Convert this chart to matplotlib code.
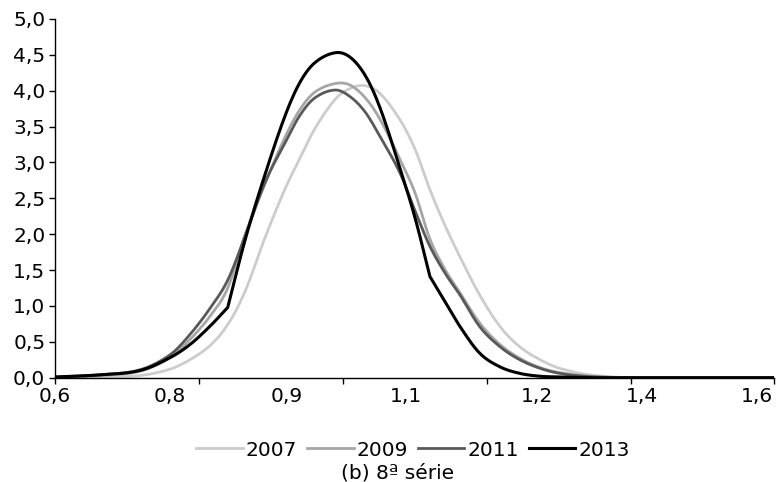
import matplotlib

matplotlib.use("Agg")
import matplotlib.pyplot as plt
import numpy as np


# category values along the x axis
X_VALUES = [0.600, 0.664, 0.721, 0.764, 0.792, 0.821, 0.846, 0.871, 0.899, 0.928,
            0.949, 0.970, 0.999, 1.020, 1.042, 1.063, 1.091, 1.113, 1.134, 1.156,
            1.177, 1.205, 1.234, 1.262, 1.291, 1.319, 1.362, 1.419, 1.519, 1.624]

Y_2007 = [0.00, 0.01, 0.03, 0.12, 0.25, 0.45, 0.74, 1.21, 1.95, 2.64,
          3.06, 3.47, 3.88, 4.03, 4.07, 3.96, 3.60, 3.18, 2.62, 2.11,
          1.68, 1.15, 0.71, 0.43, 0.25, 0.13, 0.04, 0.00, 0.00, 0.00]
Y_2009 = [0.00, 0.03, 0.09, 0.28, 0.53, 0.86, 1.25, 2.00, 2.70, 3.36,
          3.74, 3.98, 4.10, 4.08, 3.90, 3.60, 3.05, 2.57, 1.93, 1.50,
          1.18, 0.76, 0.46, 0.27, 0.14, 0.07, 0.02, 0.00, 0.00, 0.00]
Y_2011 = [0.01, 0.04, 0.11, 0.32, 0.60, 0.97, 1.36, 1.98, 2.72, 3.28,
          3.66, 3.90, 4.01, 3.92, 3.70, 3.36, 2.86, 2.32, 1.83, 1.45,
          1.15, 0.71, 0.43, 0.25, 0.13, 0.06, 0.015, 0.00, 0.00, 0.00]
Y_2013 = [0.01, 0.04, 0.10, 0.28, 0.46, 0.72, 0.98, 1.93, 2.83, 3.66,
          4.12, 4.39, 4.53, 4.47, 4.21, 3.76, 2.93, 2.22, 1.41, 1.05,
          0.71, 0.34, 0.15, 0.06, 0.02, 0.01, 0.00, 0.00, 0.00, 0.00]

SERIES = (
    ("2007", Y_2007, "#cccccc", 2.0),
    ("2009", Y_2009, "#a6a6a6", 2.0),
    ("2011", Y_2011, "#595959", 2.0),
    ("2013", Y_2013, "#000000", 2.2),
)

Y_TICKS = [0.0, 0.5, 1.0, 1.5, 2.0, 2.5, 3.0, 3.5, 4.0, 4.5, 5.0]
X_TICK_MARKS = [0.600, 0.805, 1.010, 1.215, 1.420, 1.624]
X_LABEL_POS = [0.600, 0.764, 0.930, 1.100, 1.287, 1.436, 1.600]
X_LABELS = ["0,6", "0,8", "0,9", "1,1", "1,2", "1,4", "1,6"]

W, H = 776, 482
FS = 14.5


def smooth(xs, ys, steps=12):
    # cubic Hermite through the points with centred tangents; a sharp change
    # of slope (as in the 2013 line) is kept as a corner
    xs = np.asarray(xs, dtype=float)
    ys = np.asarray(ys, dtype=float)
    h = np.diff(xs)
    d = np.diff(ys) / h
    m_in = np.empty_like(ys)
    m_out = np.empty_like(ys)
    m_in[0] = m_out[0] = d[0]
    m_in[-1] = m_out[-1] = d[-1]
    for i in range(1, len(ys) - 1):
        a, b = d[i - 1], d[i]
        lo, hi = sorted((abs(a), abs(b)))
        if a * b > 0 and lo > 8 and hi / lo > 2:
            m_in[i], m_out[i] = a, b
        else:
            m_in[i] = m_out[i] = (ys[i + 1] - ys[i - 1]) / (xs[i + 1] - xs[i - 1])
    t = np.linspace(0, 1, steps, endpoint=False)
    h00 = 2 * t**3 - 3 * t**2 + 1
    h10 = t**3 - 2 * t**2 + t
    h01 = -2 * t**3 + 3 * t**2
    h11 = t**3 - t**2
    out_x, out_y = [], []
    for i in range(len(h)):
        out_x.append(xs[i] + t * h[i])
        out_y.append(h00 * ys[i] + h10 * h[i] * m_out[i]
                     + h01 * ys[i + 1] + h11 * h[i] * m_in[i + 1])
    out_x.append([xs[-1]])
    out_y.append([ys[-1]])
    return np.concatenate(out_x), np.clip(np.concatenate(out_y), 0, None)


fig = plt.figure(figsize=(W / 100, H / 100), dpi=100)
ax = fig.add_axes([55 / W, 1 - 377.7 / H, (774 - 55) / W, (377.7 - 19) / H])

for name, ys, color, lw in SERIES:
    sx, sy = smooth(X_VALUES, ys)
    ax.plot(sx, sy, color=color, linewidth=lw, label=name, solid_joinstyle="round")

ax.set_xlim(X_VALUES[0], X_VALUES[-1])
ax.set_ylim(0, 5)
for side in ("top", "right"):
    ax.spines[side].set_visible(False)
for side in ("left", "bottom"):
    ax.spines[side].set_linewidth(1.0)

ax.set_yticks(Y_TICKS)
ax.set_yticklabels([f"{v:.1f}".replace(".", ",") for v in Y_TICKS], fontsize=FS)
ax.tick_params(axis="y", length=4, width=1.0, pad=3)

ax.xaxis.remove_overlapping_locs = False
ax.set_xticks(X_TICK_MARKS)
ax.set_xticklabels([])
ax.tick_params(axis="x", which="major", length=4, width=1.0)
ax.set_xticks(X_LABEL_POS, minor=True)
ax.set_xticklabels(X_LABELS, minor=True, fontsize=FS)
ax.tick_params(axis="x", which="minor", length=0, pad=7)

ax.legend(
    loc="center",
    bbox_to_anchor=(413 / W, 1 - 450 / H),
    bbox_transform=fig.transFigure,
    ncol=4,
    frameon=False,
    fontsize=FS,
    handlelength=2.3,
    handletextpad=0.15,
    columnspacing=0.5,
)
fig.text(398 / W, 1 - 473 / H, "(b) 8ª série", ha="center", va="center", fontsize=FS)

fig.savefig("out.png", dpi=100)
